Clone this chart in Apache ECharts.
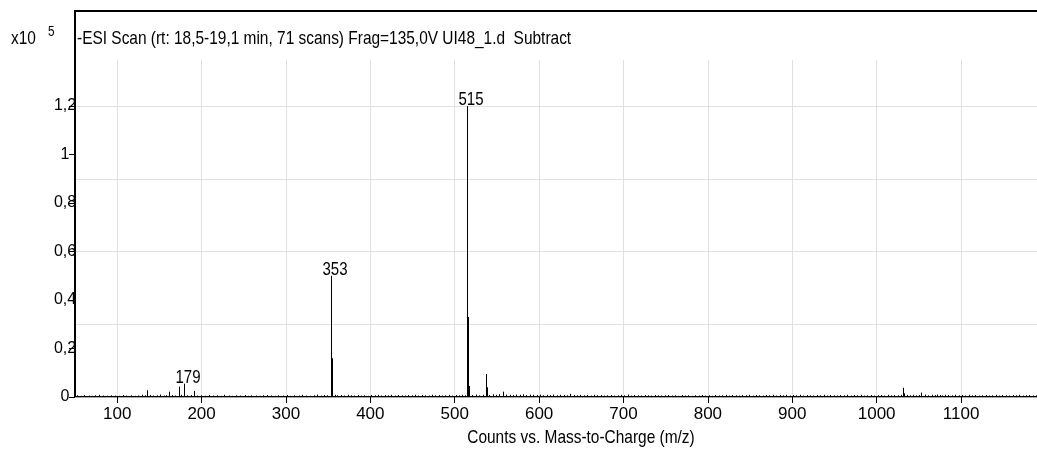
<!DOCTYPE html>
<html>
<head>
<meta charset="utf-8">
<script src="https://cdn.jsdelivr.net/npm/echarts@6/dist/echarts.min.js"></script>
<style>
  html, body { margin: 0; padding: 0; background: #fff; }
  #chart { width: 1037px; height: 456px; }
</style>
</head>
<body>
<div id="chart"></div>
<script>
const FONT = "'Liberation Sans', Arial, sans-serif";
// horizontal squeeze giving the free-text a narrow sans look
const NARROW = 0.835;

// Ions called out with their m/z
const labeledMz = [179, 353, 515];

// Main ions: [m/z, counts x10^5]
const ionPeaks = [
  [135, 0.028], [161, 0.022], [173, 0.043], [179, 0.055], [191, 0.025],
  [353, 0.50], [354, 0.16], [355, 0.02],
  [515, 1.20], [516, 0.33], [517, 0.045],
  [537, 0.095], [538, 0.04], [553, 0.012], [557, 0.022],
  [1031, 0.038], [1032, 0.015], [1053, 0.018], [1075, 0.008]
];

// Baseline noise: [m/z, counts x10^5]
const noisePeaks = [
  [52, 0.007], [57, 0.005], [61, 0.008], [66, 0.006], [70, 0.005], [74, 0.007], [79, 0.009], [83, 0.006],
  [88, 0.005], [93, 0.007], [97, 0.006], [102, 0.005], [107, 0.008], [111, 0.006], [116, 0.007], [121, 0.005],
  [125, 0.006], [129, 0.009], [133, 0.007], [139, 0.008], [143, 0.006], [147, 0.007], [151, 0.010], [155, 0.006],
  [158, 0.007], [165, 0.008], [168, 0.006], [176, 0.009], [183, 0.007], [187, 0.008], [195, 0.006], [199, 0.007],
  [204, 0.005], [209, 0.008], [213, 0.006], [218, 0.007], [223, 0.005], [227, 0.009], [232, 0.006], [236, 0.005],
  [241, 0.007], [246, 0.006], [251, 0.008], [255, 0.005], [259, 0.007], [264, 0.006], [269, 0.005], [273, 0.007],
  [277, 0.008], [282, 0.006], [287, 0.005], [291, 0.007], [296, 0.006], [301, 0.008], [305, 0.005], [310, 0.007],
  [315, 0.006], [319, 0.009], [324, 0.006], [328, 0.005], [333, 0.007], [337, 0.010], [341, 0.006], [345, 0.008],
  [349, 0.007], [358, 0.009], [361, 0.007], [365, 0.008], [369, 0.006], [373, 0.009], [377, 0.007], [381, 0.006],
  [385, 0.008], [389, 0.006], [393, 0.007], [397, 0.005], [401, 0.008], [405, 0.007], [409, 0.009], [413, 0.006],
  [417, 0.008], [421, 0.007], [425, 0.009], [429, 0.006], [433, 0.008], [437, 0.007], [441, 0.006], [445, 0.008],
  [449, 0.007], [453, 0.009], [457, 0.006], [461, 0.008], [465, 0.007], [469, 0.006], [473, 0.009], [477, 0.007],
  [481, 0.008], [485, 0.006], [489, 0.007], [493, 0.009], [497, 0.006], [501, 0.008], [505, 0.007], [509, 0.009],
  [512, 0.007], [521, 0.008], [525, 0.010], [529, 0.007], [533, 0.009], [541, 0.008], [545, 0.011], [549, 0.009],
  [561, 0.010], [565, 0.009], [569, 0.008], [573, 0.010], [577, 0.009], [581, 0.011], [585, 0.008], [589, 0.010],
  [593, 0.009], [597, 0.008], [601, 0.010], [605, 0.007], [609, 0.009], [613, 0.008], [617, 0.010], [621, 0.007],
  [625, 0.009], [629, 0.008], [633, 0.007], [637, 0.013], [641, 0.008], [645, 0.007], [649, 0.009], [653, 0.007],
  [657, 0.008], [661, 0.006], [665, 0.009], [669, 0.007], [673, 0.008], [677, 0.006], [681, 0.007], [685, 0.008],
  [689, 0.006], [693, 0.007], [697, 0.009], [701, 0.007], [705, 0.010], [709, 0.006], [713, 0.008], [717, 0.007],
  [721, 0.006], [725, 0.008], [729, 0.007], [733, 0.006], [737, 0.008], [741, 0.007], [745, 0.006], [749, 0.007],
  [753, 0.008], [757, 0.006], [761, 0.007], [765, 0.005], [769, 0.008], [773, 0.006], [777, 0.007], [781, 0.005],
  [785, 0.007], [789, 0.006], [793, 0.008], [797, 0.006], [801, 0.007], [805, 0.005], [809, 0.008], [813, 0.006],
  [817, 0.007], [821, 0.009], [825, 0.006], [829, 0.008], [833, 0.007], [837, 0.006], [841, 0.008], [845, 0.007],
  [849, 0.009], [853, 0.006], [857, 0.008], [861, 0.007], [865, 0.006], [869, 0.008], [873, 0.007], [877, 0.009],
  [881, 0.006], [885, 0.008], [889, 0.007], [893, 0.009], [897, 0.006], [901, 0.008], [905, 0.007], [909, 0.009],
  [913, 0.006], [917, 0.008], [921, 0.007], [925, 0.006], [929, 0.008], [933, 0.007], [937, 0.009], [941, 0.006],
  [945, 0.008], [949, 0.007], [953, 0.006], [957, 0.008], [961, 0.007], [965, 0.009], [969, 0.006], [973, 0.008],
  [977, 0.007], [981, 0.009], [985, 0.006], [989, 0.007], [993, 0.008], [997, 0.006], [1001, 0.007], [1005, 0.008],
  [1009, 0.006], [1013, 0.009], [1017, 0.007], [1021, 0.008], [1025, 0.007], [1029, 0.009], [1036, 0.008], [1039, 0.007],
  [1043, 0.009], [1047, 0.007], [1050, 0.008], [1057, 0.010], [1061, 0.007], [1065, 0.009], [1069, 0.008], [1072, 0.010],
  [1078, 0.007], [1081, 0.009], [1085, 0.008], [1089, 0.007], [1093, 0.009], [1097, 0.007], [1101, 0.008], [1105, 0.006],
  [1109, 0.009], [1113, 0.007], [1117, 0.008], [1121, 0.006], [1125, 0.007], [1129, 0.008], [1133, 0.006], [1137, 0.007],
  [1141, 0.009], [1145, 0.006], [1149, 0.008], [1153, 0.007], [1157, 0.006], [1161, 0.008], [1165, 0.007], [1169, 0.009],
  [1173, 0.006], [1177, 0.007], [1181, 0.008], [1185, 0.006], [1189, 0.007]
];

const xTickValues = [100, 200, 300, 400, 500, 600, 700, 800, 900, 1000, 1100];
const yLabelValues = [0, 0.2, 0.4, 0.6, 0.8, 1, 1.2];
const yGridValues = [0.3, 0.6, 0.9, 1.2];

const X_MIN = 50, X_MAX = 1190, Y_MAX = 1.39;

const chart = echarts.init(document.getElementById('chart'), null, { renderer: 'canvas' });

// One vertical stick per ion, from the baseline up to its intensity
function renderStick(params, api) {
  const mz = api.value(0);
  const base = api.coord([mz, 0]);
  const top = api.coord([mz, api.value(1)]);
  const x = Math.round(base[0]) + 0.5;
  return {
    type: 'line',
    shape: { x1: x, y1: base[1], x2: x, y2: top[1] },
    style: { stroke: '#000', lineWidth: 1 }
  };
}

// m/z annotation just above its stick
function renderPeakLabel(params, api) {
  const mz = api.value(0);
  const top = api.coord([mz, api.value(1)]);
  return {
    type: 'text',
    x: Math.round(top[0]) + 4,
    y: top[1] + 3,
    scaleX: NARROW,
    style: {
      text: String(mz),
      fill: '#000',
      fontSize: 18,
      fontFamily: FONT,
      align: 'center',
      verticalAlign: 'bottom'
    }
  };
}

const labelData = labeledMz.map(mz => ionPeaks.find(p => p[0] === mz));

const decimalComma = v => String(+(+v).toFixed(1)).replace('.', ',');

chart.setOption({
  animation: false,
  grid: { left: 75, right: 0, top: 60, bottom: 59, containLabel: false },
  xAxis: [
    {
      type: 'value', min: X_MIN, max: X_MAX, position: 'bottom',
      axisLine: { show: true, lineStyle: { color: '#000', width: 2 } },
      axisTick: { show: false }, axisLabel: { show: false }, splitLine: { show: false }
    },
    {
      type: 'value', min: X_MIN, max: X_MAX, position: 'bottom', offset: 3,
      axisLine: { show: true, lineStyle: { color: '#a8a8a8', width: 1 } },
      axisTick: { show: true, length: 6, inside: false, customValues: xTickValues, lineStyle: { color: '#000', width: 1 } },
      axisLabel: {
        show: true, customValues: xTickValues, margin: 6, color: '#000',
        fontSize: 17, fontFamily: FONT, formatter: v => String(v)
      },
      splitLine: { show: true, lineStyle: { color: '#e0e0e0', width: 1 } }
    }
  ],
  yAxis: [
    {
      type: 'value', min: 0, max: Y_MAX, position: 'left',
      axisLine: { show: false },
      axisTick: { show: true, length: 6, inside: false, customValues: yLabelValues, lineStyle: { color: '#000', width: 1 } },
      axisLabel: {
        show: true, customValues: yLabelValues, margin: 10, align: 'center',
        color: '#000', fontSize: 16, fontFamily: FONT, formatter: decimalComma
      },
      splitLine: { show: false }
    },
    {
      type: 'value', min: 0, max: Y_MAX, position: 'left',
      axisLine: { show: false },
      axisTick: { show: false, customValues: yGridValues },
      axisLabel: { show: false, customValues: yGridValues },
      splitLine: { show: true, lineStyle: { color: '#e0e0e0', width: 1 } }
    }
  ],
  graphic: [
    {
      type: 'polyline', z: 100, silent: true,
      shape: { points: [[1037, 11], [75, 11], [75, 397]] },
      style: { stroke: '#000', lineWidth: 2, fill: null }
    },
    {
      type: 'text', x: 11, y: 39, scaleX: NARROW, silent: true,
      style: { text: 'x10', fill: '#000', fontSize: 18.5, fontFamily: FONT, verticalAlign: 'middle' }
    },
    {
      type: 'text', x: 48, y: 32, scaleX: NARROW, silent: true,
      style: { text: '5', fill: '#000', fontSize: 14, fontFamily: FONT, verticalAlign: 'middle' }
    },
    {
      type: 'text', x: 77, y: 39, scaleX: NARROW, silent: true,
      style: {
        text: '-ESI Scan (rt: 18,5-19,1 min, 71 scans) Frag=135,0V UI48_1.d  Subtract',
        fill: '#000', fontSize: 18.5, fontFamily: FONT, verticalAlign: 'middle'
      }
    },
    {
      type: 'text', x: 581, y: 438, scaleX: NARROW, silent: true,
      style: {
        text: 'Counts vs. Mass-to-Charge (m/z)',
        fill: '#000', fontSize: 18.5, fontFamily: FONT, align: 'center', verticalAlign: 'middle'
      }
    }
  ],
  series: [
    {
      name: 'noise', type: 'custom', xAxisIndex: 0, yAxisIndex: 0,
      renderItem: renderStick, data: noisePeaks, clip: true, silent: true
    },
    {
      name: 'ions', type: 'custom', xAxisIndex: 0, yAxisIndex: 0,
      renderItem: renderStick, data: ionPeaks, clip: true, silent: true
    },
    {
      name: 'labels', type: 'custom', xAxisIndex: 0, yAxisIndex: 0,
      renderItem: renderPeakLabel, data: labelData, clip: false, silent: true
    }
  ]
});
</script>
</body>
</html>
